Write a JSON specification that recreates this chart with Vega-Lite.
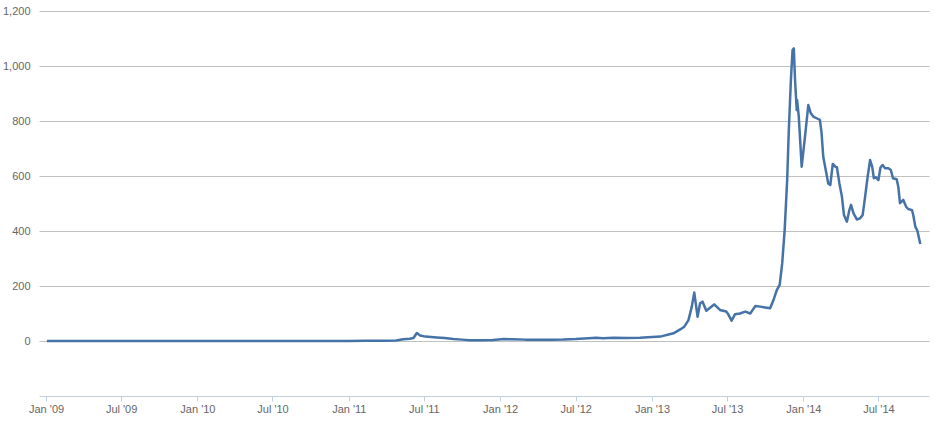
{
  "$schema": "https://vega.github.io/schema/vega-lite/v6.json",
  "autosize": "none",
  "width": 890,
  "height": 385,
  "padding": {"left": 39, "top": 11, "right": 6, "bottom": 26},
  "background": "white",
  "config": {"view": {"stroke": null}},
  "data": {"values": [
    {"date": "2009-01-03", "price": 0},
    {"date": "2009-07-01", "price": 0},
    {"date": "2010-01-01", "price": 0},
    {"date": "2010-07-17", "price": 0.05},
    {"date": "2010-10-01", "price": 0.06},
    {"date": "2010-11-08", "price": 0.3},
    {"date": "2011-01-01", "price": 0.3},
    {"date": "2011-02-10", "price": 1},
    {"date": "2011-04-01", "price": 0.8},
    {"date": "2011-04-25", "price": 1.5},
    {"date": "2011-05-12", "price": 6},
    {"date": "2011-05-28", "price": 8},
    {"date": "2011-06-06", "price": 11},
    {"date": "2011-06-14", "price": 29},
    {"date": "2011-06-22", "price": 20},
    {"date": "2011-07-05", "price": 16},
    {"date": "2011-08-01", "price": 13},
    {"date": "2011-08-20", "price": 11},
    {"date": "2011-09-10", "price": 7},
    {"date": "2011-10-01", "price": 5},
    {"date": "2011-10-20", "price": 3},
    {"date": "2011-11-15", "price": 2.5},
    {"date": "2011-12-15", "price": 3.5},
    {"date": "2012-01-10", "price": 7},
    {"date": "2012-02-01", "price": 6},
    {"date": "2012-03-01", "price": 5},
    {"date": "2012-04-01", "price": 5},
    {"date": "2012-05-01", "price": 5},
    {"date": "2012-06-01", "price": 5.5},
    {"date": "2012-07-01", "price": 7},
    {"date": "2012-08-01", "price": 10},
    {"date": "2012-08-20", "price": 12},
    {"date": "2012-09-05", "price": 10},
    {"date": "2012-10-01", "price": 12},
    {"date": "2012-11-01", "price": 11},
    {"date": "2012-12-03", "price": 12},
    {"date": "2013-01-21", "price": 16},
    {"date": "2013-02-22", "price": 28},
    {"date": "2013-03-10", "price": 42},
    {"date": "2013-03-20", "price": 52},
    {"date": "2013-03-30", "price": 76},
    {"date": "2013-04-07", "price": 125},
    {"date": "2013-04-13", "price": 176},
    {"date": "2013-04-21", "price": 88},
    {"date": "2013-04-27", "price": 137},
    {"date": "2013-05-03", "price": 143},
    {"date": "2013-05-12", "price": 110},
    {"date": "2013-05-31", "price": 133},
    {"date": "2013-06-14", "price": 113},
    {"date": "2013-06-29", "price": 107},
    {"date": "2013-07-04", "price": 97},
    {"date": "2013-07-12", "price": 74},
    {"date": "2013-07-20", "price": 97},
    {"date": "2013-08-01", "price": 100},
    {"date": "2013-08-14", "price": 107},
    {"date": "2013-08-26", "price": 100},
    {"date": "2013-09-07", "price": 127},
    {"date": "2013-09-19", "price": 125},
    {"date": "2013-10-01", "price": 122},
    {"date": "2013-10-13", "price": 119},
    {"date": "2013-10-21", "price": 149},
    {"date": "2013-10-29", "price": 185},
    {"date": "2013-11-05", "price": 204},
    {"date": "2013-11-11", "price": 282},
    {"date": "2013-11-17", "price": 404},
    {"date": "2013-11-23", "price": 585},
    {"date": "2013-11-27", "price": 767},
    {"date": "2013-12-02", "price": 949},
    {"date": "2013-12-06", "price": 1058},
    {"date": "2013-12-09", "price": 1064},
    {"date": "2013-12-12", "price": 949},
    {"date": "2013-12-16", "price": 840},
    {"date": "2013-12-17", "price": 876},
    {"date": "2013-12-21", "price": 816},
    {"date": "2013-12-28", "price": 634},
    {"date": "2014-01-05", "price": 743},
    {"date": "2014-01-13", "price": 858},
    {"date": "2014-01-19", "price": 828},
    {"date": "2014-01-25", "price": 816},
    {"date": "2014-02-02", "price": 810},
    {"date": "2014-02-10", "price": 804},
    {"date": "2014-02-14", "price": 755},
    {"date": "2014-02-18", "price": 670},
    {"date": "2014-02-24", "price": 622},
    {"date": "2014-03-02", "price": 573},
    {"date": "2014-03-07", "price": 567},
    {"date": "2014-03-13", "price": 644},
    {"date": "2014-03-19", "price": 634},
    {"date": "2014-03-23", "price": 631},
    {"date": "2014-03-29", "price": 573},
    {"date": "2014-04-04", "price": 525},
    {"date": "2014-04-09", "price": 458},
    {"date": "2014-04-16", "price": 434},
    {"date": "2014-04-22", "price": 476},
    {"date": "2014-04-26", "price": 495},
    {"date": "2014-05-02", "price": 464},
    {"date": "2014-05-10", "price": 442},
    {"date": "2014-05-18", "price": 446},
    {"date": "2014-05-24", "price": 458},
    {"date": "2014-05-30", "price": 525},
    {"date": "2014-06-05", "price": 597},
    {"date": "2014-06-11", "price": 658},
    {"date": "2014-06-16", "price": 634},
    {"date": "2014-06-20", "price": 592},
    {"date": "2014-06-25", "price": 595},
    {"date": "2014-07-01", "price": 585},
    {"date": "2014-07-06", "price": 631},
    {"date": "2014-07-11", "price": 640},
    {"date": "2014-07-17", "price": 628},
    {"date": "2014-07-25", "price": 628},
    {"date": "2014-07-31", "price": 622},
    {"date": "2014-08-05", "price": 592},
    {"date": "2014-08-14", "price": 588},
    {"date": "2014-08-18", "price": 561},
    {"date": "2014-08-22", "price": 501},
    {"date": "2014-08-30", "price": 513},
    {"date": "2014-09-06", "price": 488},
    {"date": "2014-09-11", "price": 480},
    {"date": "2014-09-20", "price": 476},
    {"date": "2014-09-23", "price": 458},
    {"date": "2014-09-28", "price": 416},
    {"date": "2014-10-03", "price": 401},
    {"date": "2014-10-10", "price": 353}
  ]},
  "mark": {"type": "line", "color": "#4572A7", "strokeWidth": 2.5, "interpolate": "linear", "strokeJoin": "round"},
  "encoding": {
    "x": {
      "field": "date",
      "type": "temporal",
      "title": null,
      "scale": {
        "type": "utc",
        "domain": [
          {"year": 2008, "month": 12, "date": 15, "utc": true},
          {"year": 2014, "month": 10, "date": 31, "utc": true}
        ],
        "nice": false
      },
      "axis": {
        "labelExpr": "utcFormat(datum.value, \"%b '%y\")",
        "tickCount": {"interval": "month", "step": 6},
        "grid": false,
        "domainColor": "#C0D0E0",
        "domainWidth": 1,
        "tickColor": "#C0D0E0",
        "tickSize": 5,
        "labelPadding": 2,
        "labelFont": "Liberation Sans",
        "labelFontSize": 11,
        "labelColor": "#666666",
        "labelFlush": false,
        "labelOverlap": false
      }
    },
    "y": {
      "field": "price",
      "type": "quantitative",
      "title": null,
      "scale": {"domain": [-200, 1200], "nice": false, "zero": false},
      "axis": {
        "values": [0, 200, 400, 600, 800, 1000, 1200],
        "labelExpr": "format(datum.value, ',d')",
        "domain": false,
        "ticks": false,
        "gridColor": "#C0C0C0",
        "gridWidth": 1,
        "labelPadding": 9,
        "labelFont": "Liberation Sans",
        "labelFontSize": 11,
        "labelColor": "#666666"
      }
    }
  }
}
